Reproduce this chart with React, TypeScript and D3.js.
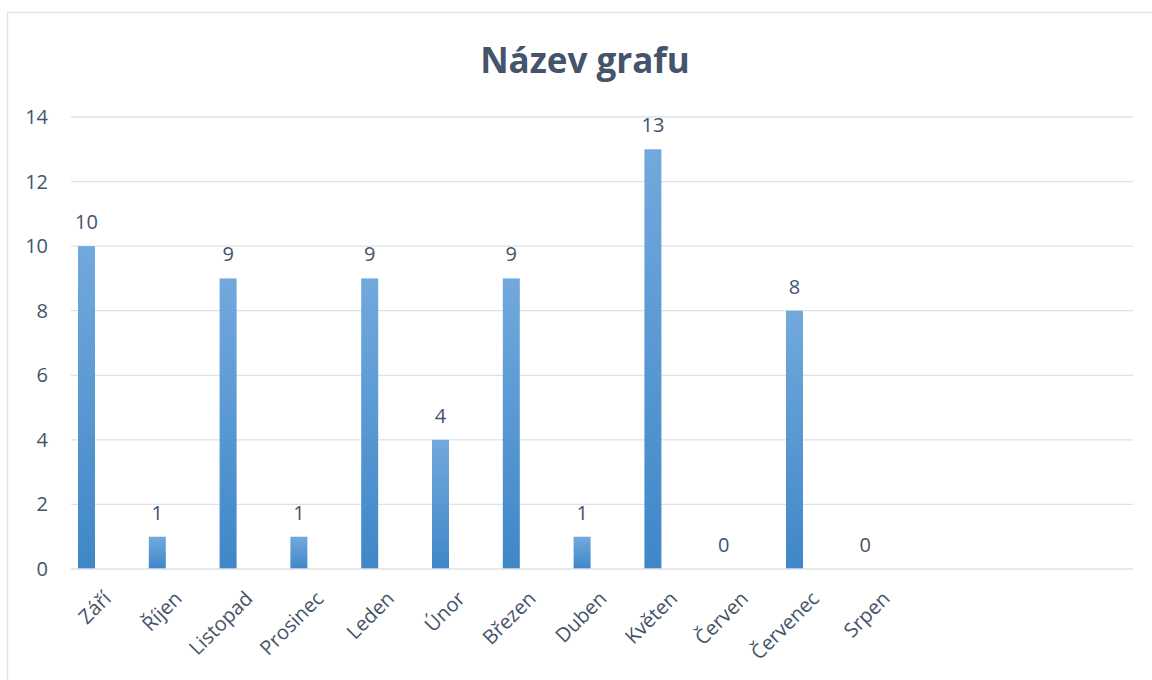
import React, { useEffect, useRef } from 'react';
import * as d3 from 'd3';

// Data
const months = ['Září', 'Říjen', 'Listopad', 'Prosinec', 'Leden', 'Únor', 'Březen', 'Duben', 'Květen', 'Červen', 'Červenec', 'Srpen'];
const counts = [10, 1, 9, 1, 9, 4, 9, 1, 13, 0, 8, 0];
const emptySlots = ['_a', '_b', '_c'];
const yTicks = [0, 2, 4, 6, 8, 10, 12, 14];
const chartTitle = 'Název grafu';

const TEXT = '#44546A';
const GRID = '#dde2e9';
const FONT = '"Open Sans", sans-serif';

function App() {
    const svgRef = useRef<SVGSVGElement>(null);

    useEffect(() => {
        const W = 1152;
        const H = 680;
        const left = 71;
        const right = 1133;
        const top = 117;
        const bottom = 569;

        const svg = d3.select(svgRef.current);
        svg.selectAll('*').remove();
        svg.attr('width', W).attr('height', H);

        // gradient for bars
        const grad = svg.append('defs').append('linearGradient')
            .attr('id', 'barGrad')
            .attr('x1', 0).attr('y1', 0).attr('x2', 0).attr('y2', 1);
        grad.append('stop').attr('offset', '0%').attr('stop-color', '#72a9dd');
        grad.append('stop').attr('offset', '100%').attr('stop-color', '#3f87c8');

        // chart frame
        svg.append('rect')
            .attr('x', 7.5).attr('y', 12.5)
            .attr('width', W + 20).attr('height', H + 20)
            .attr('fill', '#fff')
            .attr('stroke', GRID)
            .attr('stroke-width', 1.3);

        // title
        svg.append('text')
            .attr('x', 585).attr('y', 73)
            .attr('text-anchor', 'middle')
            .attr('font-family', FONT)
            .attr('font-weight', 700)
            .attr('font-size', 35)
            .attr('fill', TEXT)
            .text(chartTitle);

        const x = d3.scaleBand<string>()
            .domain([...months, ...emptySlots])
            .range([left, right]);

        const y = d3.scaleLinear()
            .domain([0, 14])
            .range([bottom, top]);

        const barW = 17;
        const barOffset = 7; // bar sits left of slot centre

        // gridlines
        svg.append('g')
            .selectAll('line')
            .data(yTicks.filter(t => t > 0))
            .join('line')
            .attr('x1', left).attr('x2', right)
            .attr('y1', d => y(d)).attr('y2', d => y(d))
            .attr('stroke', GRID)
            .attr('stroke-width', 1.3);

        // y labels
        svg.append('g')
            .selectAll('text')
            .data(yTicks)
            .join('text')
            .attr('x', 48)
            .attr('y', d => y(d))
            .attr('dy', '0.35em')
            .attr('text-anchor', 'end')
            .attr('font-family', FONT)
            .attr('font-size', 20)
            .attr('fill', TEXT)
            .text(d => d);

        // bars
        svg.append('g')
            .selectAll('rect')
            .data(counts)
            .join('rect')
            .attr('x', (d, i) => x(months[i])! + barOffset)
            .attr('y', d => y(d))
            .attr('width', barW)
            .attr('height', d => bottom - y(d))
            .attr('fill', 'url(#barGrad)');

        // axis line
        svg.append('line')
            .attr('x1', left).attr('x2', right)
            .attr('y1', y(0)).attr('y2', y(0))
            .attr('stroke', GRID)
            .attr('stroke-width', 1.3);

        // data labels
        svg.append('g')
            .selectAll('text')
            .data(counts)
            .join('text')
            .attr('x', (d, i) => x(months[i])! + barOffset + barW / 2)
            .attr('y', d => y(d) - 17)
            .attr('text-anchor', 'middle')
            .attr('font-family', FONT)
            .attr('font-size', 20)
            .attr('fill', TEXT)
            .text(d => d);

        // category labels
        svg.append('g')
            .selectAll('text')
            .data(months)
            .join('text')
            .attr('transform', d => `translate(${x(d)! + x.bandwidth() / 2 - 4},${bottom + 21}) rotate(-45)`)
            .attr('dy', '0.7em')
            .attr('text-anchor', 'end')
            .attr('font-family', FONT)
            .attr('font-size', 20)
            .attr('fill', TEXT)
            .text(d => d);
    }, []);

    return (
        <div style={{ position: 'absolute', left: 0, top: 0 }}>
            <svg ref={svgRef} style={{ display: 'block' }}></svg>
        </div>
    );
}

export default App;
